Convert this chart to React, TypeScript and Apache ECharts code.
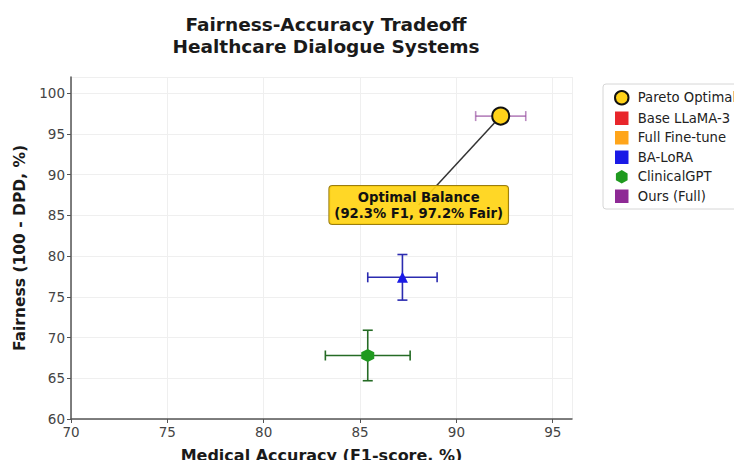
import React, { useEffect, useRef } from "react";
import * as echarts from "echarts";

const titleLines = ["Fairness-Accuracy Tradeoff", "Healthcare Dialogue Systems"];
const xAxisName = "Medical Accuracy (F1-score, %)";
const yAxisName = "Fairness (100 - DPD, %)";

// [accuracy, fairness, accErr, fairErr]
const paretoOptimal = [[92.3, 97.2]];
const baseLlama: number[][] = [];
const fullFineTune: number[][] = [];
const baLora = [[87.2, 77.4, 1.8, 2.8]];
const clinicalGpt = [[85.4, 67.8, 2.2, 3.1]];
const oursFull = [[92.3, 97.2, 1.3, 0.8]];

const annotationPoint = [[92.3, 97.2]];

const xRange = [70, 96];
const yRange = [60, 102];

const FONT = "DejaVu Sans";

function errorBarSeries(data: number[][], color: string, z: number) {
  return {
    type: "custom",
    z,
    silent: true,
    data,
    renderItem: (params: any, api: any) => {
      const x = api.value(0), y = api.value(1), ex = api.value(2), ey = api.value(3);
      const l = api.coord([x - ex, y]);
      const r = api.coord([x + ex, y]);
      const t = api.coord([x, y + ey]);
      const b = api.coord([x, y - ey]);
      const cap = 5;
      const st = { stroke: color, lineWidth: 1.6 };
      return {
        type: "group",
        children: [
          { type: "line", shape: { x1: l[0], y1: l[1], x2: r[0], y2: r[1] }, style: st },
          { type: "line", shape: { x1: t[0], y1: t[1], x2: b[0], y2: b[1] }, style: st },
          { type: "line", shape: { x1: l[0], y1: l[1] - cap, x2: l[0], y2: l[1] + cap }, style: st },
          { type: "line", shape: { x1: r[0], y1: r[1] - cap, x2: r[0], y2: r[1] + cap }, style: st },
          { type: "line", shape: { x1: t[0] - cap, y1: t[1], x2: t[0] + cap, y2: t[1] }, style: st },
          { type: "line", shape: { x1: b[0] - cap, y1: b[1], x2: b[0] + cap, y2: b[1] }, style: st },
        ],
      };
    },
  };
}

const hexagon = "path://M0,-1 L0.866,-0.5 L0.866,0.5 L0,1 L-0.866,0.5 L-0.866,-0.5 Z";
const square = "path://M0,0 L1,0 L1,1 L0,1 Z";

export default function App() {
  const ref = useRef<HTMLDivElement>(null);
  useEffect(() => {
    if (!ref.current) return;
    const chart = echarts.init(ref.current, undefined, { renderer: "svg" });
    const option: any = {
      animation: false,
      backgroundColor: "#ffffff",
      title: {
        text: titleLines.join("\n"),
        left: 321,
        top: 8,
        textAlign: "center",
        textStyle: { fontFamily: FONT, fontWeight: "bold", fontSize: 18.5, lineHeight: 22, color: "#1a1a1a" },
      },
      grid: { left: 71, top: 77, right: 170, bottom: 45 },
      legend: {
        orient: "vertical",
        left: 603,
        top: 84,
        padding: [6, 8, 6, 11],
        itemGap: 6,
        itemWidth: 22,
        itemHeight: 13.5,
        symbolKeepAspect: true,
        backgroundColor: "#ffffff",
        borderColor: "#d6d6d6",
        borderWidth: 1,
        borderRadius: 3,
        textStyle: { fontFamily: FONT, fontSize: 13.2, color: "#222" },
        data: [
          { name: "Pareto Optimal", icon: "circle" },
          { name: "Base LLaMA-3", icon: square },
          { name: "Full Fine-tune", icon: square },
          { name: "BA-LoRA", icon: square },
          { name: "ClinicalGPT", icon: hexagon },
          { name: "Ours (Full)", icon: square },
        ],
      },
      xAxis: {
        type: "value",
        min: xRange[0],
        max: xRange[1],
        interval: 5,
        name: xAxisName,
        nameLocation: "middle",
        nameGap: 28,
        nameTextStyle: { fontFamily: FONT, fontWeight: "bold", fontSize: 16, color: "#1a1a1a" },
        axisLine: { show: true, lineStyle: { color: "#555", width: 1.5 } },
        axisTick: { show: true, length: 4, lineStyle: { color: "#555" } },
        axisLabel: { fontFamily: FONT, fontSize: 13.5, color: "#444", margin: 6, showMaxLabel: false },
        splitLine: { show: true, lineStyle: { color: "#efefef", width: 1 } },
      },
      yAxis: {
        type: "value",
        min: yRange[0],
        max: yRange[1],
        interval: 5,
        name: yAxisName,
        nameLocation: "middle",
        nameGap: 43,
        nameTextStyle: { fontFamily: FONT, fontWeight: "bold", fontSize: 15.5, color: "#1a1a1a" },
        axisLine: { show: true, lineStyle: { color: "#555", width: 1.5 } },
        axisTick: { show: true, length: 4, lineStyle: { color: "#555" } },
        axisLabel: { fontFamily: FONT, fontSize: 13.5, color: "#444", margin: 6, showMaxLabel: false },
        splitLine: { show: true, lineStyle: { color: "#efefef", width: 1 } },
      },
      series: [
        errorBarSeries(baLora, "#2b2bb0", 2),
        errorBarSeries(clinicalGpt, "#256b25", 2),
        errorBarSeries(oursFull, "rgba(140,60,150,0.6)", 2),
        {
          name: "Base LLaMA-3",
          type: "scatter",
          z: 3,
          symbol: "rect",
          symbolSize: 12,
          itemStyle: { color: "#e8262b", opacity: 1 },
          data: baseLlama,
        },
        {
          name: "Full Fine-tune",
          type: "scatter",
          z: 3,
          symbol: "rect",
          symbolSize: 12,
          itemStyle: { color: "#ffa51a", opacity: 1 },
          data: fullFineTune,
        },
        {
          name: "BA-LoRA",
          type: "scatter",
          z: 3,
          symbol: "triangle",
          symbolSize: 11,
          itemStyle: { color: "#1a1ae6", opacity: 1 },
          data: baLora.map((d) => [d[0], d[1]]),
        },
        {
          name: "ClinicalGPT",
          type: "scatter",
          z: 3,
          symbol: hexagon,
          symbolSize: 13,
          itemStyle: { color: "#1f9a1f", opacity: 1 },
          data: clinicalGpt.map((d) => [d[0], d[1]]),
        },
        {
          name: "Ours (Full)",
          type: "scatter",
          z: 3,
          symbol: "rect",
          symbolSize: 11,
          itemStyle: { color: "#8e2a95", opacity: 1 },
          data: oursFull.map((d) => [d[0], d[1]]),
        },
        {
          name: "Pareto Optimal",
          type: "scatter",
          z: 4,
          symbol: "circle",
          symbolSize: 17,
          itemStyle: { color: "#FFD21A", borderColor: "#111", borderWidth: 2, opacity: 1 },
          data: paretoOptimal,
        },
        {
          type: "custom",
          z: 5,
          silent: true,
          data: annotationPoint,
          renderItem: (params: any, api: any) => {
            const x = api.value(0), y = api.value(1);
            const p = api.coord([x, y]);
            const bx = p[0] - 82, by = p[1] + 89;
            const dx = bx - p[0], dy = by - p[1];
            const len = Math.sqrt(dx * dx + dy * dy);
            const sx = p[0] + (dx / len) * 9, sy = p[1] + (dy / len) * 9;
            return {
              type: "group",
              children: [
                { type: "line", shape: { x1: sx, y1: sy, x2: bx, y2: by }, style: { stroke: "#333", lineWidth: 1.5 } },
                {
                  type: "text",
                  x: bx,
                  y: by,
                  style: {
                    text: `Optimal Balance\n(${x}% F1, ${y}% Fair)`,
                    fontFamily: FONT,
                    fontWeight: "bold",
                    fontSize: 13.2,
                    lineHeight: 16,
                    fill: "#111",
                    align: "center",
                    verticalAlign: "middle",
                    backgroundColor: "rgba(255,212,20,0.92)",
                    borderColor: "#9a7d10",
                    borderWidth: 1,
                    borderRadius: 3,
                    padding: [3, 5, 3, 5],
                  },
                },
              ],
            };
          },
        },
      ],
    };
    chart.setOption(option);
    return () => chart.dispose();
  }, []);
  return <div ref={ref} style={{ width: 742, height: 468, margin: -8 }} />;
}
